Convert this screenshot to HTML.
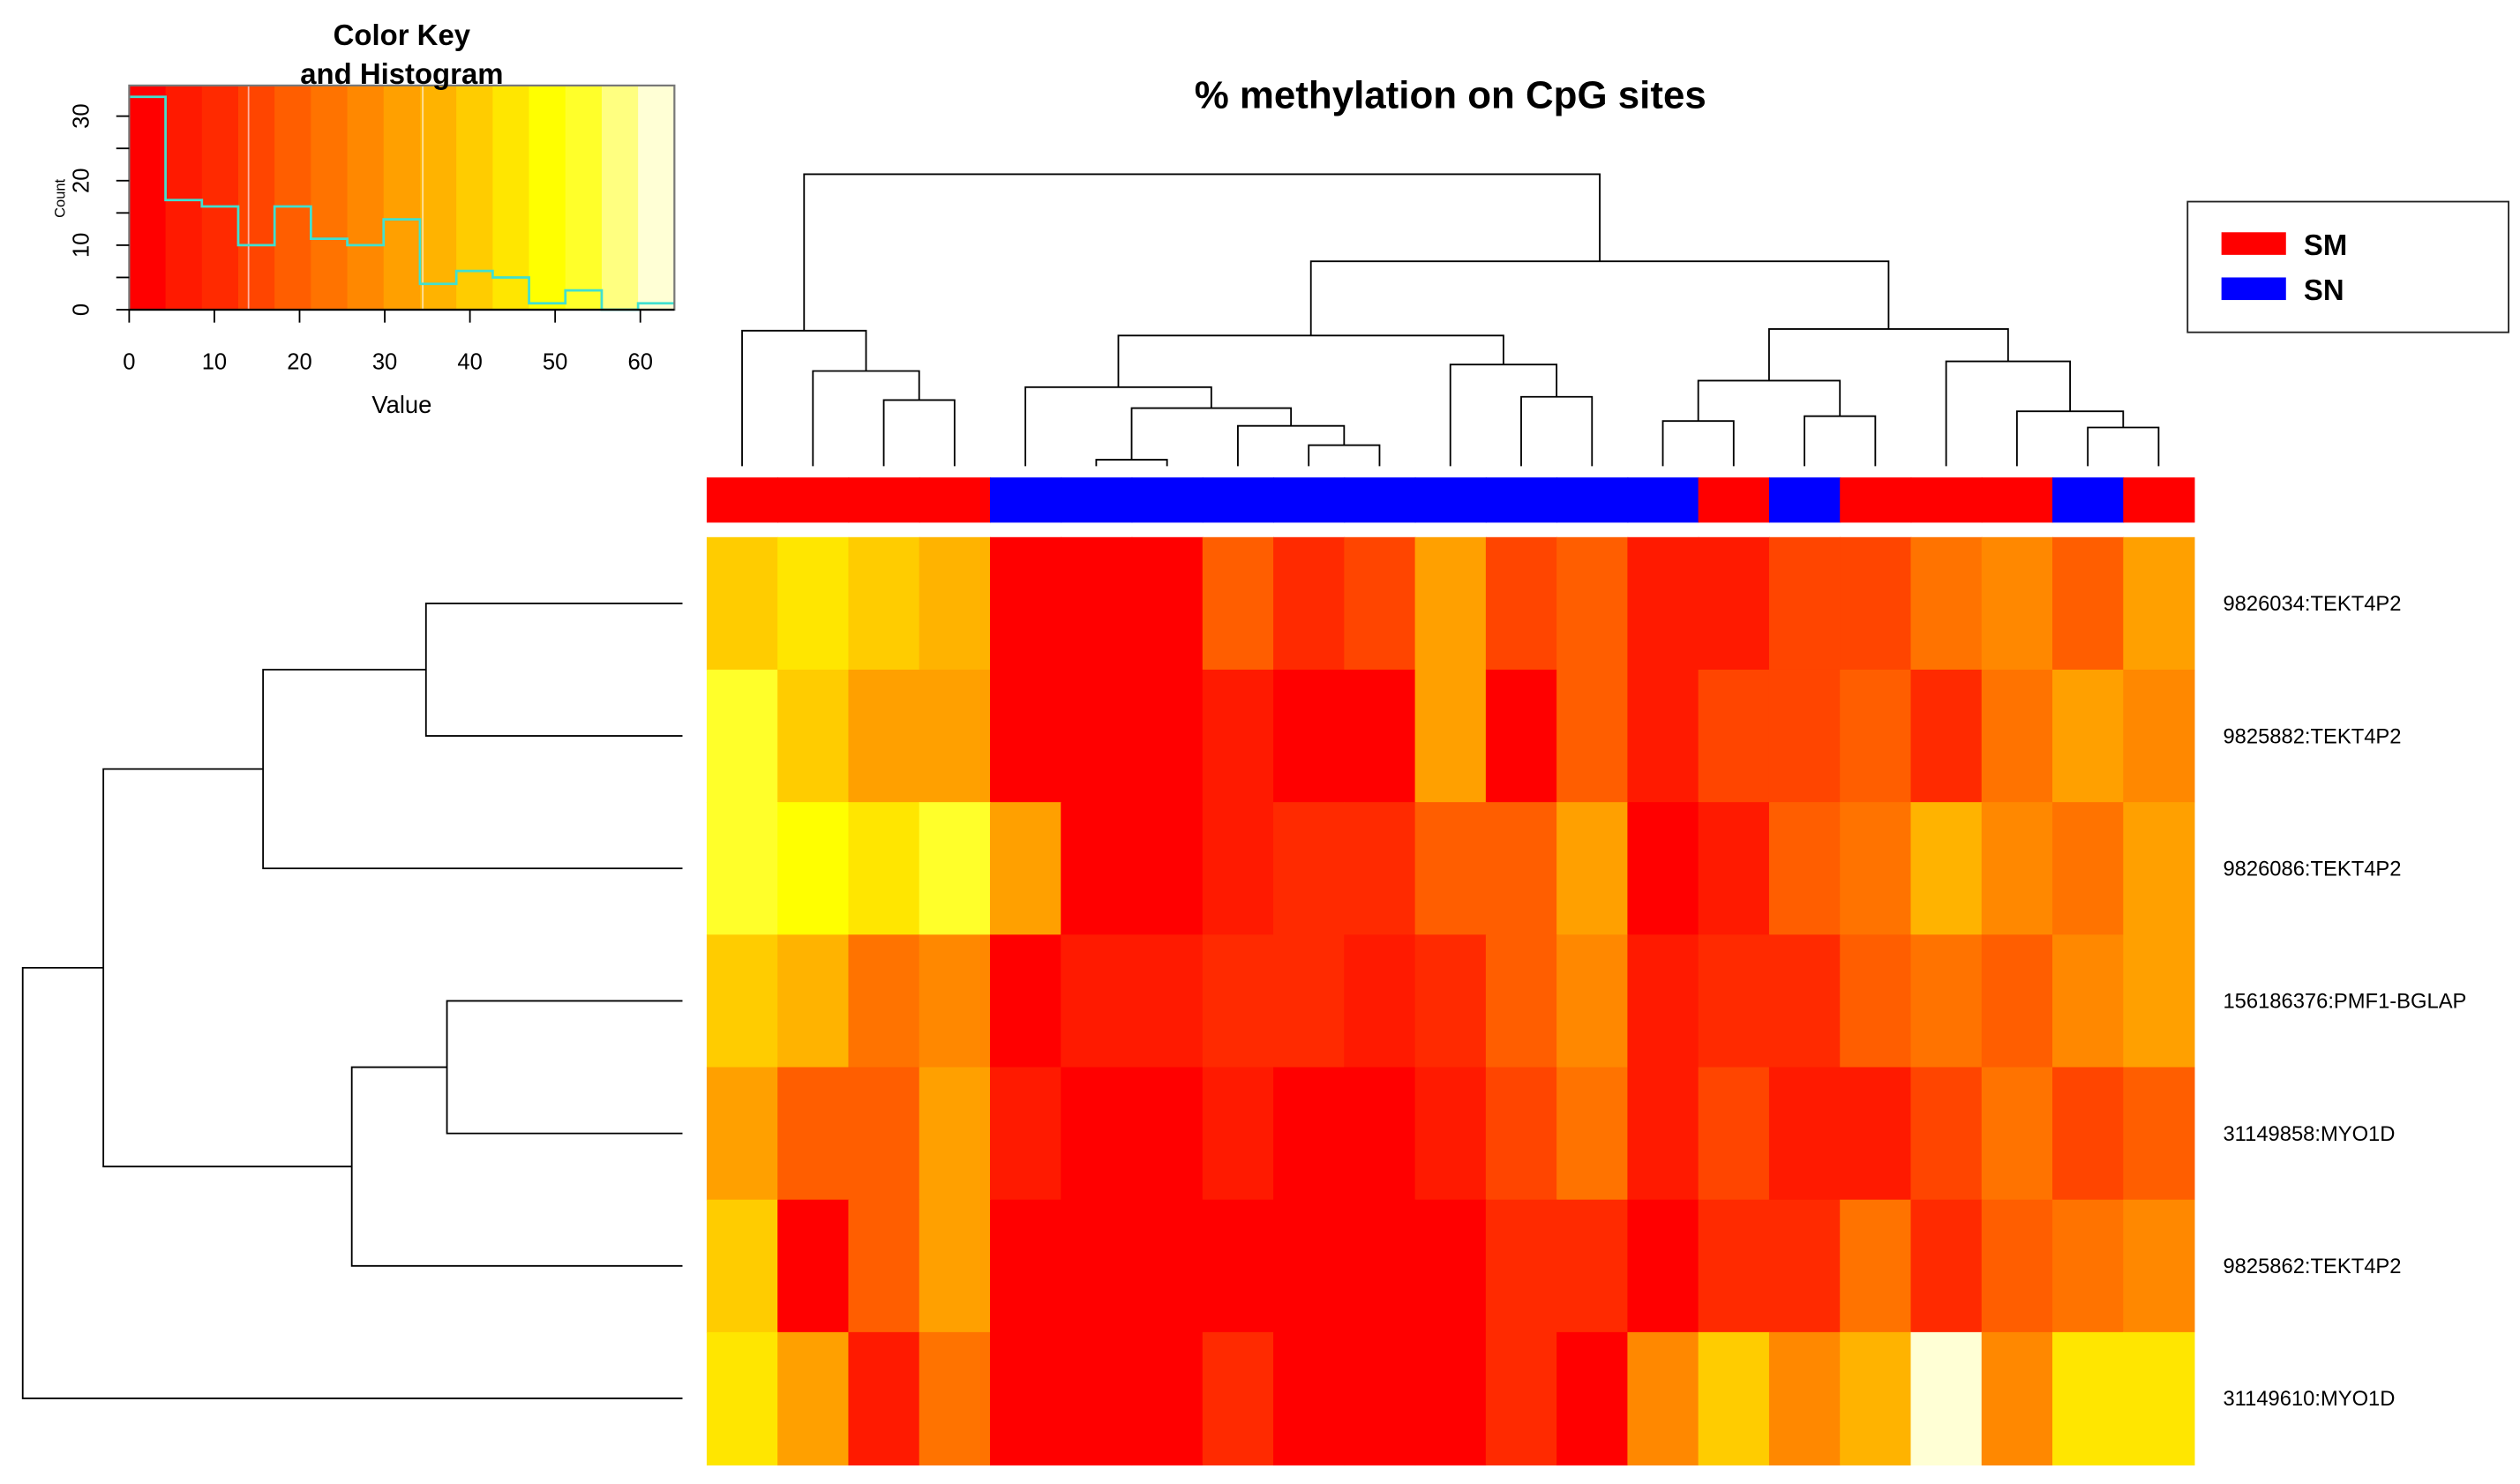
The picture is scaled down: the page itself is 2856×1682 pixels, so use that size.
<!DOCTYPE html>
<html><head><meta charset="utf-8"><style>
html,body{margin:0;padding:0;background:#fff}
svg{display:block}
text{font-family:"Liberation Sans",Arial,sans-serif}
</style></head><body>
<svg id="chart" width="2856" height="1682" viewBox="0 0 1562 920" xmlns="http://www.w3.org/2000/svg">
<g id="key"></g>
<g id="coldend"></g>
<g id="rowdend"></g>
<g id="colbar"></g>
<g id="heat"></g>
<g id="rowlabels"></g>
<text x="899" y="67" font-size="24" font-weight="bold" text-anchor="middle">% methylation on CpG sites</text>
<g>
<rect x="1356" y="125" width="199" height="81" fill="#fff" stroke="#222" stroke-width="1"/>
<rect x="1377" y="144" width="40" height="14" fill="#ff0000"/>
<text x="1428" y="158" font-size="18" font-weight="bold">SM</text>
<rect x="1377" y="172" width="40" height="14" fill="#0000ff"/>
<text x="1428" y="186" font-size="18" font-weight="bold">SN</text>
</g>
</svg>
<script>
const rowNames = ["9826034:TEKT4P2","9825882:TEKT4P2","9826086:TEKT4P2","156186376:PMF1-BGLAP","31149858:MYO1D","9825862:TEKT4P2","31149610:MYO1D"];
const groups = ["SM","SM","SM","SM","SN","SN","SN","SN","SN","SN","SN","SN","SN","SN","SM","SN","SM","SM","SM","SN","SM"];
const row1 = [40,45,40,36,2,2,2,19,11,15,32,15,19,6,6,15,15,23,28,19,32];
const row2 = [53,40,32,32,2,2,2,6,2,2,32,2,19,6,15,15,19,11,23,32,28];
const row3 = [53,49,45,53,32,2,2,6,11,11,19,19,32,2,6,19,23,36,28,23,32];
const row4 = [40,36,23,28,2,6,6,11,11,6,11,19,28,6,11,11,19,23,19,28,32];
const row5 = [32,19,19,32,6,2,2,6,2,2,6,15,23,6,15,6,6,15,23,15,19];
const row6 = [40,2,19,32,2,2,2,2,2,2,2,11,11,2,11,11,23,11,19,23,28];
const row7 = [45,32,6,23,2,2,2,11,2,2,2,11,2,28,40,28,36,62,28,45,45];
const histCounts = [33,17,16,10,16,11,10,14,4,6,5,1,3,0,1];
const keyTicksX = [0,10,20,30,40,50,60];
const keyTicksY = [0,5,10,15,20,25,30];
const keyLabelsY = [0,10,20,30];
// column dendrogram merges: [left, right, height]; leaves 0..20, internal nodes 21+
const colMerges = [[2,3,248],[1,21,230],[0,22,205],[5,6,285],[8,9,276],[7,25,264],[24,26,253],[4,27,240],[11,12,246],[10,29,226],[28,30,208],[13,14,261],[15,16,258],[32,33,236],[19,20,265],[18,35,255],[17,36,224],[34,37,204],[31,38,162],[23,39,108]];
const rowMerges = [[0,1,264],[2,7,163],[3,4,277],[5,9,218],[8,10,64],[6,11,14]];

const palette = ["#ff0000","#ff1a00","#ff2a00","#ff4500","#ff5e00","#ff7300","#ff8800","#ffa000","#ffb300","#ffcc00","#ffe600","#ffff00","#ffff2a","#ffff80","#ffffd5"];
const NS="http://www.w3.org/2000/svg";
function mk(tag, attrs, parent){const e=document.createElementNS(NS,tag);for(const k in attrs)e.setAttribute(k,attrs[k]);parent.appendChild(e);return e;}
const vmax=64, binW=vmax/15;
function colorOf(v){return palette[Math.max(0,Math.min(14,Math.floor(v/binW)))];}

const hx0=438,hx1=1360,hy0=333,hy1=908;
const nC=groups.length,nR=rowNames.length;
const cw=(hx1-hx0)/nC, rh=(hy1-hy0)/nR;
const xC=i=>hx0+cw*i, yR=j=>hy0+rh*j;
const rows=[row1,row2,row3,row4,row5,row6,row7];
const heat=document.getElementById('heat');
rows.forEach((r,j)=>r.forEach((v,i)=>{
 const c=mk('rect',{x:xC(i),y:yR(j),width:cw+0.5,height:rh+0.5,fill:colorOf(v)},heat);
 
 
}));
const rl=document.getElementById('rowlabels');
rowNames.forEach((n,j)=>{
 const t=mk('text',{x:1378,y:yR(j+0.5)+4.5,'font-size':13},rl);t.textContent=n;
 
 
});
const cb=document.getElementById('colbar');
groups.forEach((g,i)=>{
 const r=mk('rect',{x:xC(i),y:296,width:cw+0.5,height:28,fill:g==="SM"?"#ff0000":"#0000ff"},cb);
 
 
});

const cd=document.getElementById('coldend');
const cpos=[],cht=[];
for(let i=0;i<nC;i++){cpos.push(xC(i+0.5));cht.push(289);}
colMerges.forEach(m=>{
 const [a,b,h]=m;
 const p=mk('path',{d:`M${cpos[a]},${cht[a]}V${h}H${cpos[b]}V${cht[b]}`,fill:'none',stroke:'#000','stroke-width':1},cd);
 
 
 cpos.push((cpos[a]+cpos[b])/2);cht.push(h);
});
const rd=document.getElementById('rowdend');
const rpos=[],rx=[];
for(let j=0;j<nR;j++){rpos.push(yR(j+0.5));rx.push(423);}
rowMerges.forEach(m=>{
 const [a,b,h]=m;
 const p=mk('path',{d:`M${rx[a]},${rpos[a]}H${h}V${rpos[b]}H${rx[b]}`,fill:'none',stroke:'#000','stroke-width':1},rd);
 
 
 rpos.push((rpos[a]+rpos[b])/2);rx.push(h);
});

const key=document.getElementById('key');
const kx0=80,kx1=418,ky0=53,ky1=192;
const kX=v=>kx0+(kx1-kx0)*v/vmax, kY=c=>ky1-c*4;
palette.forEach((c,i)=>{
 const r=mk('rect',{x:kX(i*binW),y:ky0,width:(kx1-kx0)/15+0.5,height:ky1-ky0,fill:c},key);
 
 
});
mk('line',{x1:154,y1:ky0,x2:154,y2:ky1,stroke:'#ffb0a0','stroke-width':1},key);
mk('line',{x1:262,y1:ky0,x2:262,y2:ky1,stroke:'#ffe0a0','stroke-width':1},key);
let d=`M${kX(0)},${kY(histCounts[0])}`;
histCounts.forEach((c,i)=>{d+=`V${kY(c)}H${kX((i+1)*binW)}`;});
const hp=mk('path',{d:d,fill:'none',stroke:'#40e0d0','stroke-width':1.5},key);


mk('rect',{x:kx0,y:ky0,width:kx1-kx0,height:ky1-ky0,fill:'none',stroke:'#777','stroke-width':1.2},key);
mk('line',{x1:kx0,y1:ky1,x2:kx1,y2:ky1,stroke:'#000','stroke-width':1.2},key);
keyTicksX.forEach(v=>{
 mk('line',{x1:kX(v),y1:ky1,x2:kX(v),y2:ky1+8,stroke:'#000'},key);
 const t=mk('text',{x:kX(v),y:ky1+37,'font-size':14,'text-anchor':'middle'},key);t.textContent=v;
 
 
});
keyTicksY.forEach(v=>{mk('line',{x1:kx0-8,y1:kY(v),x2:kx0,y2:kY(v),stroke:'#000'},key);});
keyLabelsY.forEach(v=>{
 const t=mk('text',{x:0,y:0,'font-size':14,'text-anchor':'middle',transform:`translate(55,${kY(v)}) rotate(-90)`},key);t.textContent=v;
 
 
});
const ct=mk('text',{'font-size':9,'text-anchor':'middle',transform:`translate(40,123) rotate(-90)`},key);ct.textContent='Count';


const vt=mk('text',{x:249,y:256,'font-size':15,'text-anchor':'middle'},key);vt.textContent='Value';


const t1=mk('text',{x:249,y:28,'font-size':18,'font-weight':'bold','text-anchor':'middle'},key);t1.textContent='Color Key';


const t2=mk('text',{x:249,y:52,'font-size':18,'font-weight':'bold','text-anchor':'middle'},key);t2.textContent='and Histogram';


</script>
</body></html>
